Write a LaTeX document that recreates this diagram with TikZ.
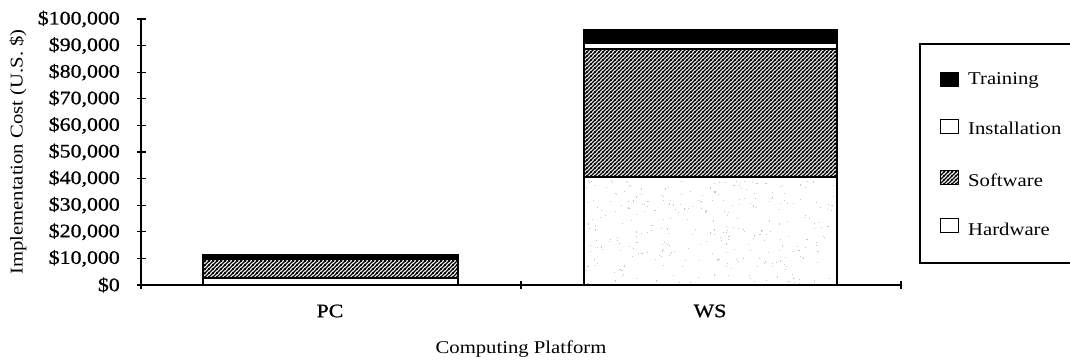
\documentclass[tikz,border=0pt]{standalone}
\usepackage{fontspec}
\setmainfont{Liberation Serif}[FakeStretch=1.15]
\newfontfamily\heavyserif{Liberation Serif}[FakeStretch=1.15, FakeBold=0.9]
\usetikzlibrary{patterns.meta}

% dense "///" hatching for the software segment
\tikzdeclarepattern{
  name=densehatch,
  type=uncolored,
  bounding box={(0,0) and (4.2pt,4.2pt)},
  tile size={(4.2pt,4.2pt)},
  code={
    \pgfsetlinewidth{1.5pt}
    \pgfpathmoveto{\pgfpoint{-1pt}{-1pt}}\pgfpathlineto{\pgfpoint{5.2pt}{5.2pt}}
    \pgfpathmoveto{\pgfpoint{-1pt}{3.2pt}}\pgfpathlineto{\pgfpoint{1pt}{5.2pt}}
    \pgfpathmoveto{\pgfpoint{3.2pt}{-1pt}}\pgfpathlineto{\pgfpoint{5.2pt}{1pt}}
    \pgfusepath{stroke}
  }
}

\tikzset{
  txt/.style={font=\fontsize{18}{20}\selectfont, inner sep=0pt},
  heavytxt/.style={font=\heavyserif\fontsize{19}{21}\selectfont, inner sep=0pt},
  axisline/.style={line width=1.5pt},
  tickmark/.style={line width=1.3pt},
  segment/.style={draw=black, line width=1.4pt},
  hw/.style={segment, fill=white},
  sw/.style={segment, pattern={densehatch}, pattern color=black},
  inst/.style={segment, fill=white},
  trn/.style={segment, fill=black},
  swatch/.style={draw=black, line width=1pt},
}

\begin{document}
\begin{tikzpicture}[x=1pt, y=-1pt]
  \useasboundingbox (0,0) rectangle (1070,360);

  % ---- stacked bars (y in px: $0 at 285, $10,000 per 26.6) ----
  % PC
  \path[hw]   (203,285) rectangle (458,278);
  \path[sw]   (203,278) rectangle (458,259);
  \path[inst] (203,259) rectangle (458,258);
  \path[trn]  (203,258) rectangle (458,255);
  % WS
  \path[hw]   (584,285) rectangle (837,177);
  \begin{scope}
    \clip (585,284) rectangle (836,178);
    \pgfmathsetseed{11}
    \foreach \i in {1,...,300}{
      \pgfmathsetmacro\px{586+249*rnd}
      \pgfmathsetmacro\py{180+103*rnd}
      \fill[gray!45] (\px,\py) rectangle ++(1.1,1.1);
    }
  \end{scope}
  \draw[segment] (584,285) rectangle (837,177);
  \path[sw]   (584,177) rectangle (837,49);
  \path[inst] (584,49) rectangle (837,43);
  \path[trn]  (584,43) rectangle (837,30);

  % ---- y axis ----
  \coordinate (ytop) at (141,19);
  \coordinate (origin) at (141,285);
  \draw[axisline] (origin) -- (ytop);
  \draw[tickmark] (137,19) -- (146,19);
  \foreach \v/\lab in {0/\$0,1/\$10{,}000,2/\$20{,}000,3/\$30{,}000,4/\$40{,}000,
                       5/\$50{,}000,6/\$60{,}000,7/\$70{,}000,8/\$80{,}000,
                       9/\$90{,}000,10/\$100{,}000}{
    \draw[tickmark] (137,285-26.6*\v) -- (145.5,285-26.6*\v);
    \node[heavytxt, anchor=east] (ylab\v) at (120,285-26.6*\v) {\lab};
  }

  % ---- x axis ----
  \coordinate (xend) at (901,285);
  \draw[axisline] (origin) -- (xend);
  \foreach \x in {141,521,901}{
    \draw[tickmark] (\x,281) -- (\x,289);
  }

  % ---- axis labels ----
  \node[heavytxt] (pc) at (330,311) {PC};
  \node[heavytxt] (ws) at (710,311) {WS};
  \node[txt] (xtitle) at (521,349) {Computing Platform};
  \node[txt, rotate=90] (ytitle) at (18,152) {Implementation Cost (U.S. \$)};

  % ---- legend ----
  \draw[line width=1.3pt] (1075,44) -- (920,44) -- (920,263) -- (1075,263);
  \draw[swatch, fill=black] (940,72) rectangle (958,86);
  \node[txt, anchor=west] (lgtrn) at (968,80) {Training};
  \draw[swatch, fill=white] (940,119) rectangle (958,133);
  \node[txt, anchor=west] (lginst) at (968,128) {Installation};
  \draw[swatch, pattern={densehatch}, pattern color=black] (940,170) rectangle (958,184);
  \node[txt, anchor=west] (lgsw) at (968,180) {Software};
  \draw[swatch, fill=white] (940,218) rectangle (958,232);
  \node[txt, anchor=west] (lghw) at (968,229) {Hardware};
\end{tikzpicture}
\end{document}
